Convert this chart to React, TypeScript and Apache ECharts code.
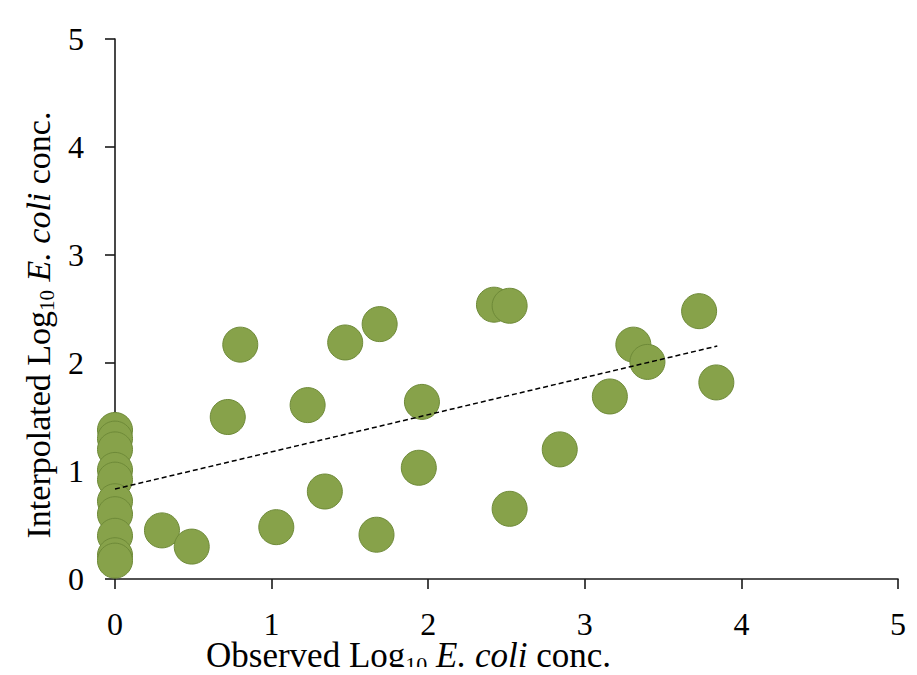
import React, { useEffect, useRef } from "react";
import * as echarts from "echarts";

const observed = [
  0, 0, 0, 0, 0, 0, 0, 0, 0, 0,
  0.3, 0.49, 0.72, 0.8, 1.03, 1.23, 1.34, 1.47, 1.67, 1.69,
  1.94, 1.96, 2.42, 2.52, 2.52, 2.84, 3.16, 3.31, 3.4, 3.73, 3.84,
];
const interpolated = [
  1.38, 1.3, 1.2, 1.01, 0.92, 0.72, 0.6, 0.4, 0.22, 0.17,
  0.45, 0.3, 1.5, 2.17, 0.48, 1.61, 0.81, 2.19, 0.41, 2.36,
  1.03, 1.64, 2.54, 2.53, 0.65, 1.2, 1.69, 2.17, 2.01, 2.48, 1.82,
];
const trendX = [0, 3.846];
const trendY = [0.833, 2.157];
const ticks = [0, 1, 2, 3, 4, 5];

const FONT = "Liberation Serif";

function richFor(size: number) {
  return {
    n: { fontFamily: FONT, fontSize: size, color: "#000" },
    s: { fontFamily: FONT, fontSize: Math.round(size * 0.62), color: "#000", verticalAlign: "bottom" as const, padding: [Math.round(size * 0.5), 0, 0, 0] },
    i: { fontFamily: FONT, fontSize: size, color: "#000", fontStyle: "italic" as const },
  };
}

export default function App() {
  const ref = useRef<HTMLDivElement>(null);
  useEffect(() => {
    if (!ref.current) return;
    const chart = echarts.init(ref.current, null, { renderer: "svg" });
    const points = observed.map((x, i) => [x, interpolated[i]]);
    const trend = trendX.map((x, i) => [x, trendY[i]]);
    const axisCommon = {
      type: "value" as const,
      min: ticks[0],
      max: ticks[ticks.length - 1],
      interval: 1,
      splitLine: { show: false },
      nameMoveOverlap: false,
      axisLine: { show: true, onZero: false, lineStyle: { color: "#1a1a1a", width: 1.6 } },
      axisTick: { show: true, inside: false, length: 10, lineStyle: { color: "#1a1a1a", width: 1.6 } },
    };
    chart.setOption({
      animation: false,
      backgroundColor: "#fff",
      grid: { left: 115, right: 19, top: 39, bottom: 96, containLabel: false, outerBoundsMode: "none" },
      xAxis: {
        ...axisCommon,
        axisLabel: { fontFamily: FONT, fontSize: 32, lineHeight: 22, color: "#000", margin: 34 },
        name: "{n|Observed Log}{s|10}{n| }{i|E. coli}{n| conc.}",
        nameLocation: "middle",
        nameGap: 56,
        nameTextStyle: { rich: richFor(35), padding: [0, 196, 0, 0] },
      },
      yAxis: {
        ...axisCommon,
        axisLabel: { fontFamily: FONT, fontSize: 32, color: "#000", margin: 31 },
        name: "{n|Interpolated Log}{s|10}{n| }{i|E. coli}{n| conc.}",
        nameLocation: "middle",
        nameRotate: 90,
        nameGap: 58,
        nameTextStyle: { rich: richFor(34), padding: [0, 32, 0, 0] },
      },
      series: [
        {
          type: "scatter",
          data: points,
          symbol: "circle",
          symbolSize: 35,
          itemStyle: { color: "#87A24A", borderColor: "#6E8A38", borderWidth: 1, opacity: 1 },
          z: 2,
        },
        {
          type: "line",
          data: trend,
          showSymbol: false,
          symbol: "none",
          lineStyle: { color: "#000", width: 1.5, type: [5, 3] },
          z: 3,
        },
      ],
    });
    return () => chart.dispose();
  }, []);
  return <div ref={ref} style={{ width: 917, height: 675, margin: -8 }} />;
}
